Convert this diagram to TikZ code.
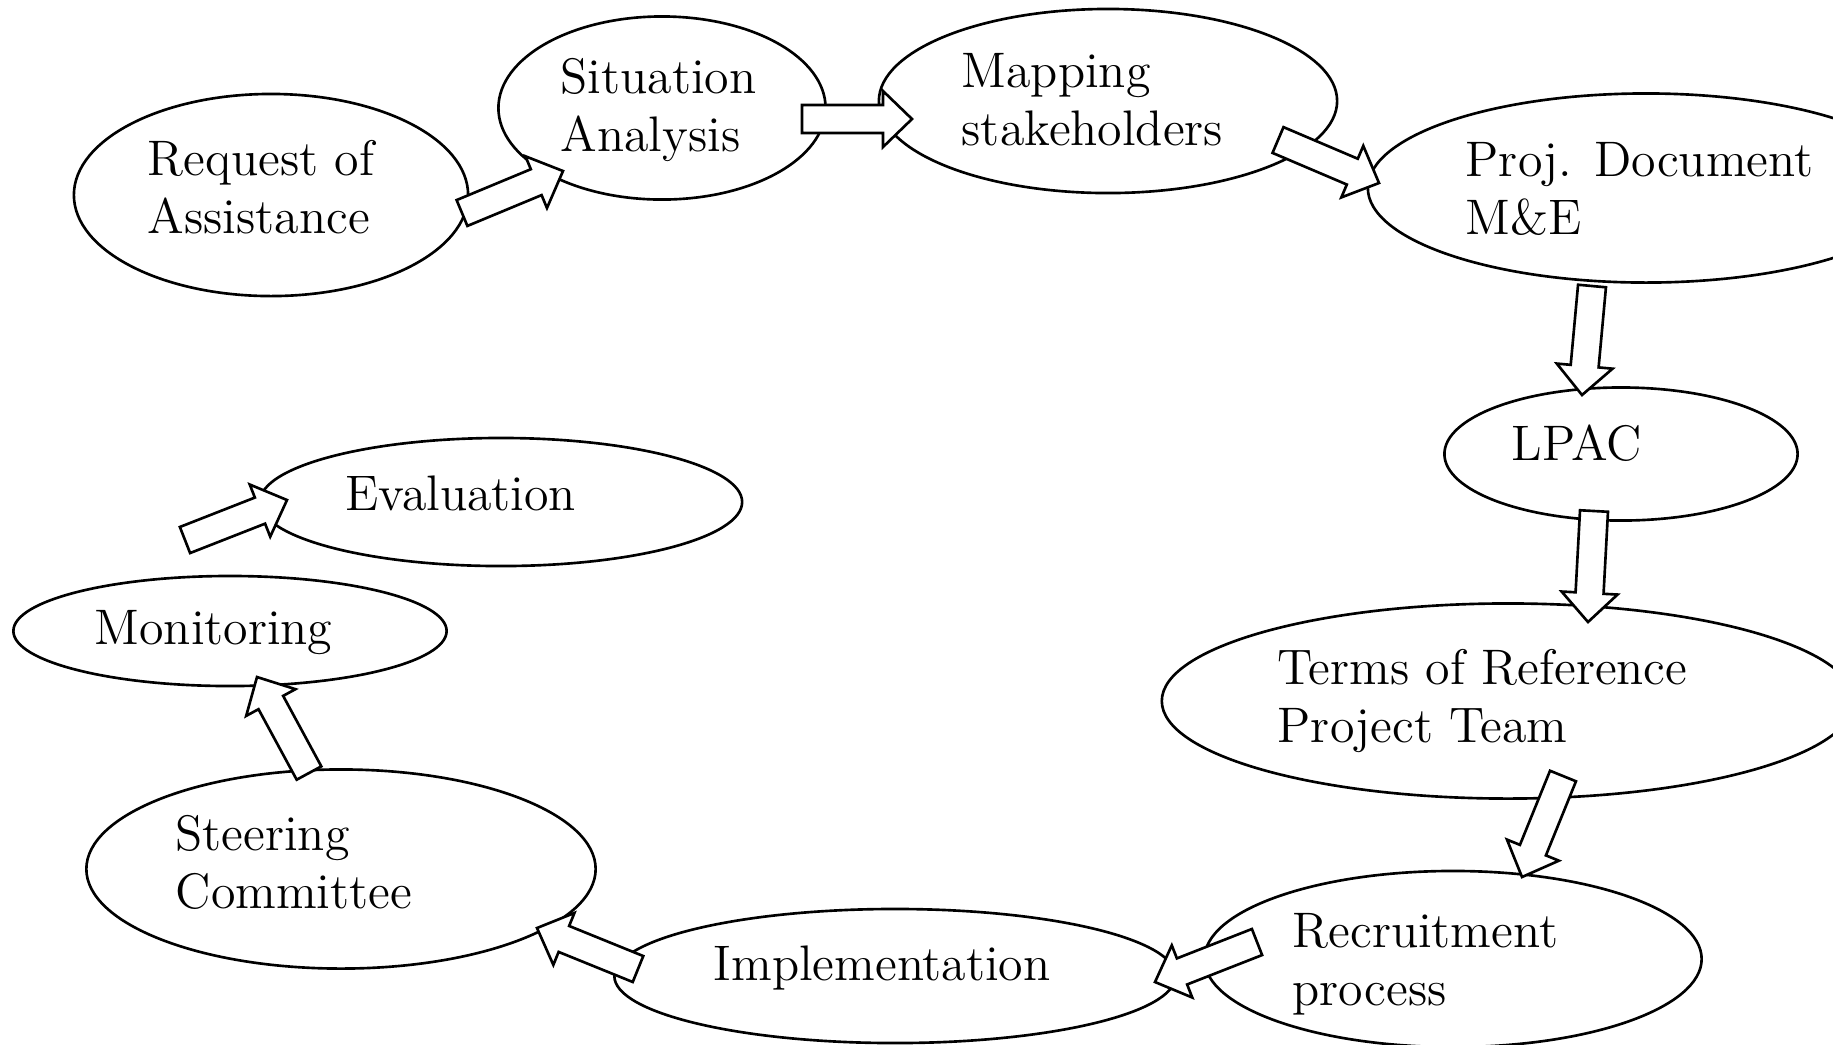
\documentclass[tikz,border=0pt]{standalone}
\usetikzlibrary{shapes.geometric, calc}

% hollow block arrow from #1 (tail) to #2 (tip)
\newcommand{\fatarrow}[2]{%
  \path ($(#2)!0.29cm!(#1)$) coordinate (hb);
  \draw [fatarr]
    ($(#1)!0.14cm!90:(#2)$) -- ($(hb)!0.14cm!90:(#2)$) -- ($(hb)!0.28cm!90:(#2)$)
    -- (#2)
    -- ($(hb)!0.28cm!-90:(#2)$) -- ($(hb)!0.14cm!-90:(#2)$) -- ($(#1)!0.14cm!-90:(#2)$)
    -- cycle;
}

\begin{document}
\begin{tikzpicture}[
    x=0.01cm, y=-0.01cm,
    stage/.style={ellipse, draw=black, line width=0.75pt, inner sep=0pt},
    lbl/.style={anchor=north west, align=left, inner sep=0pt,
                font=\fontsize{14.2}{16.5}\selectfont},
    fatarr/.style={draw=black, fill=white, line width=0.75pt, line join=miter},
]

\clip (0,0) rectangle (1833,1044);

% --- stages of the cycle ---
\node (req)   [stage, minimum width=3.94cm, minimum height=2.02cm] at (271,195)  {};
\node (sit)   [stage, minimum width=3.27cm, minimum height=1.83cm] at (662,108)  {};
\node (map)   [stage, minimum width=4.58cm, minimum height=1.84cm] at (1108,101) {};
\node (proj)  [stage, minimum width=5.56cm, minimum height=1.89cm] at (1646,188) {};
\node (lpac)  [stage, minimum width=3.53cm, minimum height=1.33cm] at (1621,454) {};
\node (tor)   [stage, minimum width=6.92cm, minimum height=1.95cm] at (1508,701) {};
\node (recr)  [stage, minimum width=4.97cm, minimum height=1.76cm] at (1453,959) {};
\node (impl)  [stage, minimum width=5.61cm, minimum height=1.34cm] at (895,976)  {};
\node (steer) [stage, minimum width=5.09cm, minimum height=1.99cm] at (341,869)  {};
\node (mon)   [stage, minimum width=4.33cm, minimum height=1.10cm] at (230,631)  {};
\node (eval)  [stage, minimum width=4.82cm, minimum height=1.28cm] at (501,502)  {};

% --- labels ---
\node (reqtxt)   [lbl] at (147,140)  {Request of\\Assistance};
\node (sittxt)   [lbl] at (560,58)   {Situation\\Analysis};
\node (maptxt)   [lbl] at (961,53)   {Mapping\\stakeholders};
\node (projtxt)  [lbl] at (1465,142) {Proj. Document\\M\&E};
\node (lpactxt)  [lbl] at (1511,424) {LPAC};
\node (tortxt)   [lbl] at (1277,649) {Terms of Reference\\Project Team};
\node (recrtxt)  [lbl] at (1292,913) {Recruitment\\process};
\node (impltxt)  [lbl] at (713,945)  {Implementation};
\node (steertxt) [lbl] at (175,815)  {Steering\\Committee};
\node (montxt)   [lbl] at (94,610)   {Monitoring};
\node (evaltxt)  [lbl] at (345,475)  {Evaluation};

% --- arrow ends ---
\coordinate (a1s)  at (462,213);  \coordinate (a1e)  at (563,171);
\coordinate (a2s)  at (802,119);  \coordinate (a2e)  at (912,119);
\coordinate (a3s)  at (1278,140); \coordinate (a3e)  at (1379,183);
\coordinate (a4s)  at (1592,286); \coordinate (a4e)  at (1582,395);
\coordinate (a5s)  at (1594,511); \coordinate (a5e)  at (1588,622);
\coordinate (a6s)  at (1563,776); \coordinate (a6e)  at (1522,877);
\coordinate (a7s)  at (1257,942); \coordinate (a7e)  at (1155,982);
\coordinate (a8s)  at (638,969);  \coordinate (a8e)  at (537,928);
\coordinate (a9s)  at (309,773);  \coordinate (a9e)  at (257,677);
\coordinate (a10s) at (185,540);  \coordinate (a10e) at (287,500);

% --- arrows ---
\foreach \i in {1,...,10} {
    \fatarrow{a\i s}{a\i e}
}

\end{tikzpicture}
\end{document}
